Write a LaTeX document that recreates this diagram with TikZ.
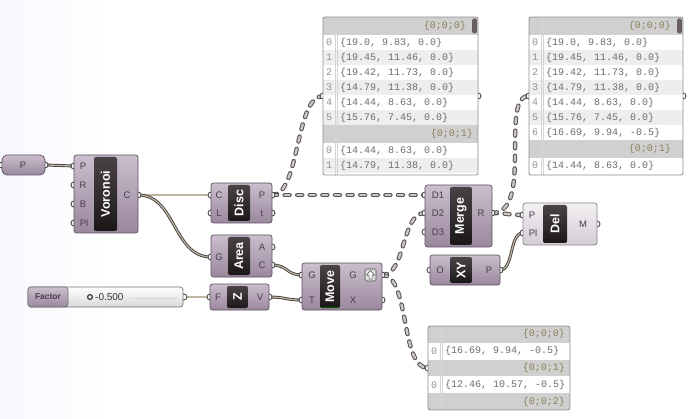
\documentclass[tikz,border=0pt]{standalone}
\usepackage{fontspec}
\setmainfont{Liberation Sans}
\newfontfamily\panelmono{Liberation Mono}

\definecolor{bodytop}{HTML}{CBBECD}
\definecolor{bodybot}{HTML}{9A879D}
\definecolor{bodyedge}{HTML}{5F5062}
\definecolor{lighttop}{HTML}{F4F1F4}
\definecolor{lightbot}{HTML}{D3CCD4}
\definecolor{lightedge}{HTML}{8A808C}
\definecolor{striptop}{HTML}{4A4345}
\definecolor{stripbot}{HTML}{1B1719}
\definecolor{portink}{HTML}{4B3B4E}
\definecolor{wireedge}{HTML}{433D3D}
\definecolor{wirecore}{HTML}{BFB6A2}
\definecolor{treeedge}{HTML}{585353}
\definecolor{treecore}{HTML}{CCC7C0}
\definecolor{paneledge}{HTML}{8E8E8E}
\definecolor{panelhead}{HTML}{D0D0D0}
\definecolor{panelalt}{HTML}{EEEEEE}
\definecolor{paneltext}{HTML}{6C6C6C}
\definecolor{headtext}{HTML}{8C7F5A}
\definecolor{gutterline}{HTML}{D4D4D4}
\definecolor{scrollbar}{HTML}{6A5F5F}

\tikzset{
  compbody/.style={draw=bodyedge, line width=0.7, rounded corners=2.5,
    top color=bodytop, bottom color=bodybot, inner sep=0, outer sep=0},
  lightbody/.style={compbody, draw=lightedge, top color=lighttop, bottom color=lightbot},
  stripfill/.style={top color=striptop, bottom color=stripbot, rounded corners=2},
  striptext/.style={text=white, font=\fontsize{12.5}{13}\selectfont\bfseries,
    rotate=90, inner sep=0},
  portlab/.style={text=portink, font=\fontsize{9.5}{10}\selectfont, inner sep=0},
  gripc/.style={draw=black!75, fill=white, line width=0.85},
  wire/.style={draw=wireedge, line width=0.85, double=wirecore, double distance=1.2},
  treewire/.style={draw=treeedge, line width=1, double=treecore, double distance=2.4,
    line cap=round, dash pattern=on 5pt off 7.6pt},
  panelbox/.style={fill=white, inner sep=0, outer sep=0},
  panelframe/.style={draw=paneledge, line width=0.8, rounded corners=2},
  idxtxt/.style={text=paneltext!75, font=\panelmono\fontsize{10}{10}\selectfont, inner sep=0},
  rowtxt/.style={text=paneltext, font=\panelmono\fontsize{10}{10}\selectfont,
    anchor=west, inner sep=0},
  headtxt/.style={text=headtext, font=\panelmono\fontsize{10}{10}\selectfont,
    anchor=east, inner sep=0},
}

% component: name, body style, x1, y1, x2, y2, strip x1, strip x2, label
\newcommand\ghcomp[9]{%
  \node[#2, minimum width={#5-#3}, minimum height={#6-#4}] (#1) at ({(#3+#5)/2},{(#4+#6)/2}) {};
  \path[stripfill] (#7,#4+2) rectangle (#8,#6-2);
  \node[striptext] (#1-name) at ({(#7+#8)/2},{(#4+#6)/2}) {#9};
}
% panel row: left, right, top, height, fill, index, text
\newcommand\prow[7]{%
  \fill[#5] (#1+0.4,#3) rectangle (#2-0.4,#3+#4);
  \node[idxtxt] at (#1+6,#3+#4/2) {#6};
  \node[rowtxt] at (#1+17,#3+#4/2) {#7};
}
% panel branch header: left, right, top, height, text right end, text
\newcommand\phead[6]{%
  \fill[panelhead] (#1+0.4,#3) rectangle (#2-0.4,#3+#4);
  \node[headtxt] at (#5,#3+#4/2) {#6};
}
\newcommand\gripat[1]{\draw[gripc] (#1) circle (3);}

\begin{document}
\begin{tikzpicture}[x=1pt,y=-1pt]
\useasboundingbox (0,0) rectangle (692,419);
\fill[white] (0,0) rectangle (692,419);
\shade[left color=black!2!blue!3, right color=white] (0,0) rectangle (110,419);

% ---------------- grip coordinates ----------------
\coordinate (p-in) at (2,165);     \coordinate (p-out) at (45,165);
\coordinate (vor-P) at (74,166);   \coordinate (vor-R) at (74,185);
\coordinate (vor-B) at (74,204);   \coordinate (vor-Pl) at (74,223);
\coordinate (vor-C) at (138,195);
\coordinate (disc-C) at (211,195); \coordinate (disc-L) at (211,213);
\coordinate (disc-P) at (272,195); \coordinate (disc-t) at (272,213);
\coordinate (area-G) at (211,257); \coordinate (area-A) at (272,247);
\coordinate (area-C) at (272,265);
\coordinate (fac-out) at (184,297);
\coordinate (z-F) at (210,297);    \coordinate (z-V) at (269,297);
\coordinate (mv-G) at (302,275);   \coordinate (mv-T) at (302,300);
\coordinate (mv-Go) at (382,275);  \coordinate (mv-X) at (382,300);
\coordinate (mg-D1) at (425,195);  \coordinate (mg-D2) at (425,213);
\coordinate (mg-D3) at (425,232);  \coordinate (mg-R) at (492,213);
\coordinate (del-P) at (523,215);  \coordinate (del-Pl) at (523,233);
\coordinate (del-M) at (597,224);
\coordinate (xy-O) at (430,270);   \coordinate (xy-P) at (500,270);
\coordinate (pan1-in) at (323,96); \coordinate (pan1-out) at (478,96);
\coordinate (pan2-in) at (529,96); \coordinate (pan2-out) at (683,96);
\coordinate (pan3-in) at (428,368);

% ---------------- wires ----------------
\draw[wire] (p-out) -- (vor-P);
\draw[wire] (vor-C) -- (disc-C);
\draw[wire] (vor-C) .. controls +(38,0) and +(-38,0) .. (area-G);
\draw[wire] (area-C) .. controls +(16,0) and +(-16,0) .. (mv-G);
\draw[wire] (fac-out) -- (z-F);
\draw[wire] (z-V) .. controls +(16,0) and +(-16,0) .. (mv-T);
\draw[wire] (xy-P) .. controls +(14,0) and +(-14,0) .. (del-Pl);

\draw[treewire] (disc-P) .. controls +(28,0) and +(-28,0) .. (pan1-in);
\draw[treewire] (disc-P) -- (mg-D1);
\draw[treewire] (mv-Go) .. controls +(24,0) and +(-24,0) .. (mg-D2);
\draw[treewire] (mv-Go) .. controls +(28,0) and +(-28,0) .. (pan3-in);
\draw[treewire] (mg-R) .. controls +(14,0) and +(-14,0) .. (del-P);
\draw[treewire] (mg-R) .. controls +(42,0) and +(-30,0) .. (pan2-in);

% ---------------- grips ----------------
\foreach \g in {p-in,p-out,vor-P,vor-R,vor-B,vor-Pl,vor-C,disc-C,disc-L,disc-P,disc-t,
  area-G,area-A,area-C,fac-out,z-F,z-V,mv-G,mv-T,mv-Go,mv-X,mg-D1,mg-D2,mg-D3,mg-R,
  del-P,del-Pl,del-M,xy-O,xy-P,pan1-in,pan1-out,pan2-in,pan2-out,pan3-in}
  {\gripat{\g}}

% ---------------- point parameter ----------------
\node[compbody, rounded corners=5, minimum width=43, minimum height=20] (ptparam) at (23.5,165) {};
\node[portlab] at (23,165) {P};

% ---------------- Voronoi ----------------
\ghcomp{vor}{compbody}{74}{155}{138}{233}{94}{117}{Voronoi}
\node[portlab] at (83,166) {P};
\node[portlab] at (83,185) {R};
\node[portlab] at (83,204) {B};
\node[portlab] at (84,223) {Pl};
\node[portlab] at (127,195) {C};

% ---------------- Disc ----------------
\ghcomp{disc}{compbody}{211}{183}{272}{223}{228}{250}{Disc}
\node[portlab] at (219,195) {C};
\node[portlab] at (219,213) {L};
\node[portlab] at (262,195) {P};
\node[portlab] at (262,213) {t};

% ---------------- Area ----------------
\ghcomp{area}{compbody}{211}{235}{272}{277}{228}{250}{Area}
\node[portlab] at (219,257) {G};
\node[portlab] at (262,247) {A};
\node[portlab] at (262,265) {C};

% ---------------- Factor slider ----------------
\path[draw=black!55, line width=0.7, rounded corners=3, top color=white, bottom color=black!15]
  (28,287) rectangle (183,307);
\node[draw=black!55, line width=0.7, rounded corners=3, top color=bodytop, bottom color=bodybot,
  minimum width=40, minimum height=20, inner sep=0] (fac) at (48,297) {};
\node[text=portink, font=\fontsize{8.5}{9}\selectfont\bfseries, inner sep=0] at (48,297) {Factor};
\draw[black!20, densely dotted, line width=0.6] (130,298) -- (178,298);
\draw[black!80, line width=1.2] (90,297) circle (2.4);
\node[text=black!80, font=\fontsize{10}{11}\selectfont, anchor=west, inner sep=0] (facval) at (95,297) {-0.500};

% ---------------- Z ----------------
\node[compbody, minimum width=59, minimum height=26] (zvec) at (239.5,297) {};
\path[stripfill] (227,286) rectangle (248,308);
\node[striptext] at (237.5,297) {Z};
\node[portlab] at (218,297) {F};
\node[portlab] at (260,297) {V};

% ---------------- Move ----------------
\ghcomp{move}{compbody}{302}{263}{382}{310}{320}{340}{Move}
\fill[green!35!black] (321,306.5) rectangle (339,308);
\node[portlab] at (312,275) {G};
\node[portlab] at (312,300) {T};
\node[portlab] at (353,275) {G};
\node[portlab] at (353,300) {X};
\node[draw=black!70, line width=0.6, rounded corners=1.5, fill=black!12, minimum width=11,
  minimum height=12, inner sep=0] (mvicon) at (370.5,275) {};
\filldraw[fill=white, draw=black!75, line width=0.5]
  (370.5,270.5) -- (374.3,275) -- (372,275) -- (372,279) -- (369,279) -- (369,275) -- (366.7,275) -- cycle;

% ---------------- Merge ----------------
\ghcomp{merge}{compbody}{425}{185}{492}{247}{450}{472}{Merge}
\node[portlab] at (438,195) {D1};
\node[portlab] at (438,213) {D2};
\node[portlab] at (438,232) {D3};
\node[portlab] at (481,213) {R};

% ---------------- XY ----------------
\node[compbody, minimum width=70, minimum height=30] (xyplane) at (465,270) {};
\path[stripfill] (450,257) rectangle (472,283);
\node[striptext] at (461,270) {XY};
\node[portlab] at (440,270) {O};
\node[portlab] at (489,270) {P};

% ---------------- Del ----------------
\ghcomp{del}{lightbody}{523}{203}{597}{245}{543}{567}{Del}
\node[portlab] at (532,215) {P};
\node[portlab] at (533,233) {Pl};
\node[portlab] at (583,224) {M};

% ---------------- panel 1 ----------------
\node[panelbox, minimum width=155, minimum height=158] (pan1) at (400.5,96) {};
\phead{323}{478}{17}{18}{466}{\{0;0;0\}}
\prow{323}{478}{35}{15}{white}{0}{\{19.0, 9.83, 0.0\}}
\prow{323}{478}{50}{15}{panelalt}{1}{\{19.45, 11.46, 0.0\}}
\prow{323}{478}{65}{15}{white}{2}{\{19.42, 11.73, 0.0\}}
\prow{323}{478}{80}{15}{panelalt}{3}{\{14.79, 11.38, 0.0\}}
\prow{323}{478}{95}{15}{white}{4}{\{14.44, 8.63, 0.0\}}
\prow{323}{478}{110}{15}{panelalt}{5}{\{15.76, 7.45, 0.0\}}
\phead{323}{478}{125}{18}{473}{\{0;0;1\}}
\prow{323}{478}{143}{15}{white}{0}{\{14.44, 8.63, 0.0\}}
\prow{323}{478}{158}{15}{panelalt}{1}{\{14.79, 11.38, 0.0\}}
\draw[gutterline, line width=0.5] (335,17) -- (335,175) (337.2,17) -- (337.2,175);
\fill[scrollbar, rounded corners=1.5] (472,18.5) rectangle (476.8,33.5);
\draw[panelframe] (pan1.north west) rectangle (pan1.south east);

% ---------------- panel 2 ----------------
\node[panelbox, minimum width=154, minimum height=158] (pan2) at (606,96) {};
\phead{529}{683}{17}{18}{671}{\{0;0;0\}}
\prow{529}{683}{35}{15}{white}{0}{\{19.0, 9.83, 0.0\}}
\prow{529}{683}{50}{15}{panelalt}{1}{\{19.45, 11.46, 0.0\}}
\prow{529}{683}{65}{15}{white}{2}{\{19.42, 11.73, 0.0\}}
\prow{529}{683}{80}{15}{panelalt}{3}{\{14.79, 11.38, 0.0\}}
\prow{529}{683}{95}{15}{white}{4}{\{14.44, 8.63, 0.0\}}
\prow{529}{683}{110}{15}{panelalt}{5}{\{15.76, 7.45, 0.0\}}
\prow{529}{683}{125}{15}{white}{6}{\{16.69, 9.94, -0.5\}}
\phead{529}{683}{140}{18}{671}{\{0;0;1\}}
\prow{529}{683}{158}{15}{white}{0}{\{14.44, 8.63, 0.0\}}
\draw[gutterline, line width=0.5] (541,17) -- (541,175) (543.2,17) -- (543.2,175);
\fill[scrollbar, rounded corners=1.5] (677,18.5) rectangle (681.8,33.5);
\draw[panelframe] (pan2.north west) rectangle (pan2.south east);

% ---------------- panel 3 ----------------
\node[panelbox, minimum width=142, minimum height=84] (pan3) at (499,368) {};
\phead{428}{570}{326}{16.8}{565}{\{0;0;0\}}
\prow{428}{570}{342.8}{16.8}{white}{0}{\{16.69, 9.94, -0.5\}}
\phead{428}{570}{359.6}{16.8}{565}{\{0;0;1\}}
\prow{428}{570}{376.4}{16.8}{white}{0}{\{12.46, 10.57, -0.5\}}
\phead{428}{570}{393.2}{16.8}{565}{\{0;0;2\}}
\draw[gutterline, line width=0.5] (440,326) -- (440,410) (442.2,326) -- (442.2,410);
\draw[panelframe] (pan3.north west) rectangle (pan3.south east);
\end{tikzpicture}
\end{document}
